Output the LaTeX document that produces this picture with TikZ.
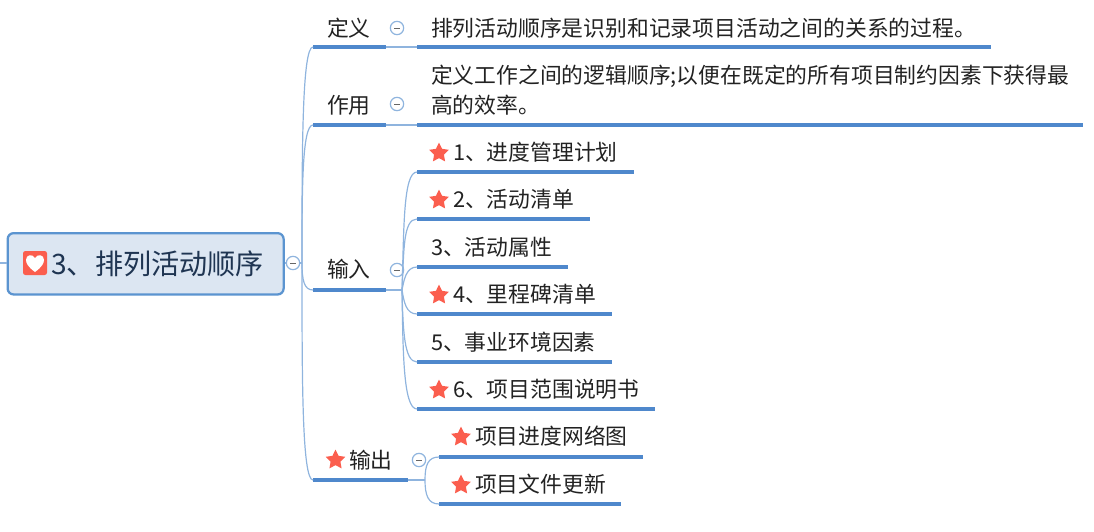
\documentclass[tikz,border=0pt]{standalone}
\usepackage{fontspec}
\setmainfont{Noto Sans CJK SC}
\usetikzlibrary{shapes.geometric}
\definecolor{linec}{HTML}{4F88CC}
\definecolor{thinc}{HTML}{8FB4DE}
\definecolor{rootfill}{HTML}{DCE6F2}
\definecolor{rootline}{HTML}{5B94D0}
\definecolor{rootink}{HTML}{1F3552}
\definecolor{ink}{HTML}{222222}
\definecolor{starc}{HTML}{FB5E4E}
\tikzset{
 x=0.75pt,y=-0.75pt,
 txt/.style={anchor=west,inner sep=0pt,outer sep=0pt,text=ink,font=\fontsize{16.35}{22.5}\selectfont,align=left},
 under/.style={draw=linec,line width=2.3pt},
 thin/.style={draw=thinc,line width=0.9pt},
 starnode/.style={star,star points=5,star point ratio=2.0,fill=starc,inner sep=0pt,minimum size=15.5pt,outer sep=0pt},
 tog/.style={circle,draw=thinc,fill=white,line width=0.9pt,minimum size=10pt,inner sep=0pt,
   path picture={\draw[draw=gray!80!black,line width=0.6pt] ([xshift=-2.2pt]path picture bounding box.center) -- ([xshift=2.2pt]path picture bounding box.center);}},
}
\newcommand{\twig}[4]{%
 \coordinate (#1s) at (#2,#3); \coordinate (#1e) at (#4,#3);
 \draw[under] (#1s) -- (#1e);}
\begin{document}
\begin{tikzpicture}
\useasboundingbox (0,0) rectangle (1094,531);
% root
\node[draw=rootline,fill=rootfill,line width=1.7pt,rounded corners=4.5pt,minimum width=207pt,minimum height=46pt,inner sep=0pt,anchor=north west] (root) at (6.5,232) {};
\coordinate (lft) at (0,263);
\draw[thin] (lft) -- (root.west|-lft);
\node[anchor=west,inner sep=0pt,text=rootink,font=\fontsize{21.1}{25}\selectfont] (rootlabel) at (51,264) {3、排列活动顺序};
\node[fill=starc,rounded corners=1.8pt,minimum size=18pt,inner sep=0pt] (rooticon) at (35,263) {};
\fill[white] (35,272) .. controls (28,267) and (26,263) .. (26,260) .. controls (26,254.5) and (32.5,253.5) .. (35,258) .. controls (37.5,253.5) and (44,254.5) .. (44,260) .. controls (44,263) and (42,267) .. (35,272) -- cycle;
\node[tog] (trt) at (293,263) {};
\draw[thin] (root.east|-trt) -- (trt);
% first level lines
\twig{a}{313}{47}{386}
\twig{b}{313}{125}{386}
\twig{c}{313}{290}{386}
\twig{d}{313}{480}{408}
\coordinate (fork) at (302,263);
\draw[thin] (trt) -- (fork);
\draw[thin] (fork) .. controls (302,150) and (302,47) .. (as);
\draw[thin] (fork) .. controls (302,190) and (302,125) .. (bs);
\draw[thin] (fork) .. controls (302,280) and (304,290) .. (cs);
\draw[thin] (fork) .. controls (302,380) and (302,480) .. (ds);
\node[txt] (ta) at (327,28) {定义};
\node[txt] (tb) at (327,105) {作用};
\node[txt] (tc) at (327,269) {输入};
\node[starnode] (sd) at (335.5,460) {};
\node[txt] (td) at (349,460) {输出};
\node[tog] (ga) at (397,28) {};
\node[tog] (gb) at (397,104) {};
\node[tog] (gc) at (397,270) {};
\node[tog] (gd) at (419,460) {};
% definition
\twig{a1}{417}{47}{991}
\twig{b1}{417}{125}{1083}
\draw[thin] (ae) -- (a1s);
\draw[thin] (be) -- (b1s);
\node[txt] (ta1) at (431,28) {排列活动顺序是识别和记录项目活动之间的关系的过程。};
\node[txt] (tb1) at (431,90) {定义工作之间的逻辑顺序;以便在既定的所有项目制约因素下获得最\\高的效率。};
% inputs
\twig{c1}{417}{172}{634}
\twig{c2}{417}{219}{590}
\twig{c3}{417}{267}{568}
\twig{c4}{417}{314}{612}
\twig{c5}{417}{362}{612}
\twig{c6}{417}{409}{655}
\coordinate (cf) at (402,290);
\draw[thin] (ce) -- (cf);
\draw[thin] (cf) .. controls (404,230) and (403,172) .. (c1s);
\draw[thin] (cf) .. controls (404,250) and (403,219) .. (c2s);
\draw[thin] (cf) .. controls (404,280) and (406,267) .. (c3s);
\draw[thin] (cf) .. controls (404,302) and (406,314) .. (c4s);
\draw[thin] (cf) .. controls (403,330) and (404,362) .. (c5s);
\draw[thin] (cf) .. controls (403,350) and (403,409) .. (c6s);
\node[starnode] (s1) at (439,153) {};
\node[txt] (t1) at (453,152) {1、进度管理计划};
\node[starnode] (s2) at (439,200) {};
\node[txt] (t2) at (453,199) {2、活动清单};
\node[txt] (t3) at (431,247) {3、活动属性};
\node[starnode] (s4) at (439,295) {};
\node[txt] (t4) at (453,294) {4、里程碑清单};
\node[txt] (t5) at (431,342) {5、事业环境因素};
\node[starnode] (s6) at (439,390) {};
\node[txt] (t6) at (453,389) {6、项目范围说明书};
% outputs
\twig{d1}{439}{457}{643}
\twig{d2}{439}{504}{621}
\coordinate (df) at (425,480);
\draw[thin] (de) -- (df);
\draw[thin] (df) .. controls (425,465) and (428,457) .. (d1s);
\draw[thin] (df) .. controls (425,495) and (428,504) .. (d2s);
\node[starnode] (s7) at (461,437) {};
\node[txt] (t7) at (475,436) {项目进度网络图};
\node[starnode] (s8) at (461,485) {};
\node[txt] (t8) at (475,484) {项目文件更新};
\end{tikzpicture}
\end{document}
